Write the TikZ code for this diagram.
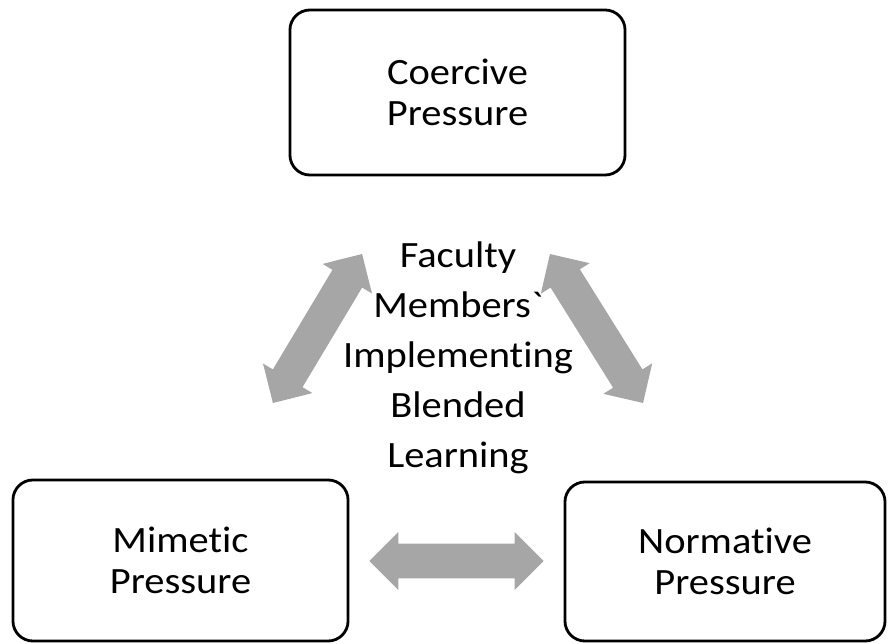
\documentclass[tikz,border=0pt]{standalone}
\usepackage{fontspec}
\setmainfont{Carlito}[FakeStretch=1.09, Ligatures={TeXOff,NoCommon}]
\usetikzlibrary{positioning}
\usetikzlibrary{shapes,shapes.arrows}
\usetikzlibrary{calc}
\definecolor{arrowgray}{HTML}{A6A6A6}

\begin{document}
\begin{tikzpicture}[x=0.025cm, y=-0.025cm,
  pbox/.style={draw=black, line width=2pt, rounded corners=0.5cm, align=center, inner sep=0pt, font=\fontsize{26.4}{29}\selectfont},
  blockarrow/.style={double arrow, fill=arrowgray, draw=none, inner xsep=0pt, inner ysep=0.425cm, double arrow head extend=0.2875cm}]

\useasboundingbox (0,0) rectangle (889,644);

%the three pressures
\node[pbox, minimum width=8.375cm, minimum height=4.125cm] (coercive) at (457.5,92.5) {Coercive\\Pressure};
\node[pbox, minimum width=8.375cm, minimum height=4.025cm] (mimetic) at (180.5,560.5) {Mimetic\\Pressure};
\node[pbox, minimum width=8cm, minimum height=3.975cm] (normative) at (725,561.5) {Normative\\Pressure};

%faculty in the middle
\node[align=center, inner sep=0pt, font=\fontsize{26.4}{35.5}\selectfont] (faculty) at (458,358) {Faculty\\Members`\\Implementing\\Blended\\Learning};

%gray double arrows
\node[blockarrow, minimum height=4.34cm, rotate=59.1] (leftarr) at (317.5,328.5) {};
\node[blockarrow, minimum height=4.39cm, rotate=-58] (rightarr) at (596.5,328.5) {};
\node[blockarrow, minimum height=4.35cm] (bottomarr) at ($(mimetic.east)!0.5!(normative.west)$) {};

\end{tikzpicture}
\end{document}
